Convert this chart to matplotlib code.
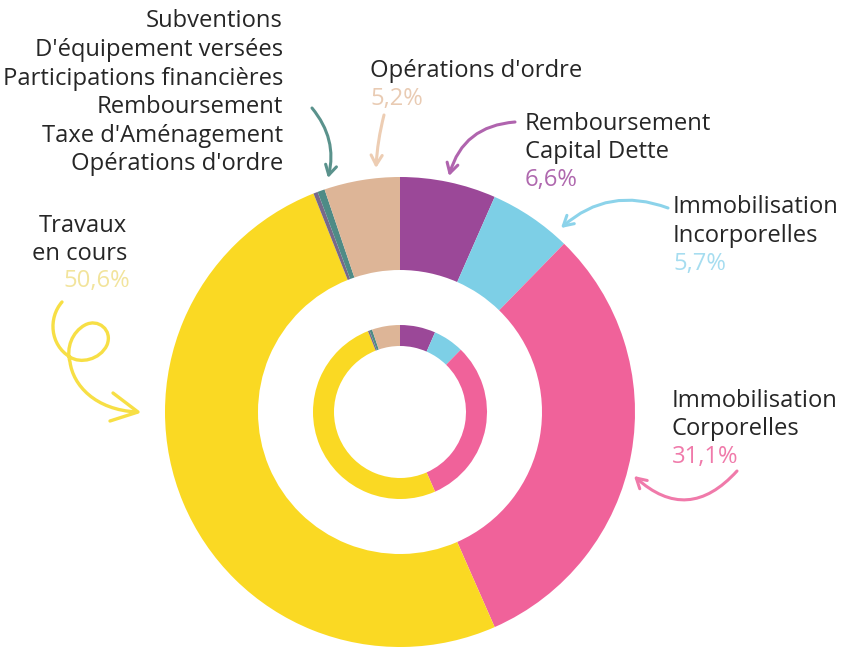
import matplotlib
matplotlib.use("Agg")
import matplotlib.pyplot as plt
from matplotlib.patches import FancyArrowPatch, PathPatch
from matplotlib.path import Path

# ---- data (clockwise from 12 o'clock) ----
categories = ["Remboursement Capital Dette", "Immobilisation Incorporelles",
              "Immobilisation Corporelles", "Travaux en cours",
              "Subventions / Participations / Remboursement TA", "Opérations d'ordre (autres)",
              "Opérations d'ordre"]
values = [6.6, 5.7, 31.1, 50.6, 0.3, 0.5, 5.2]
colors = ["#9B4898", "#7DCFE6", "#F0629A", "#FAD923", "#77698A", "#4E8B86", "#DDB597"]

W, H = 841, 647
fig = plt.figure(figsize=(W / 100, H / 100), dpi=100)
ax = fig.add_axes([0, 0, 1, 1])

def Y(y):
    return H - y

cx, cy = 400, Y(412)
ax.pie(values, colors=colors, startangle=90, counterclock=False, radius=235,
       center=(cx, cy), frame=True,
       wedgeprops=dict(width=93, edgecolor="none", linewidth=0))
ax.pie(values, colors=colors, startangle=90, counterclock=False, radius=87,
       center=(cx, cy), frame=True,
       wedgeprops=dict(width=21, edgecolor="none", linewidth=0))
ax.set_xlim(0, W)
ax.set_ylim(0, H)
ax.set_aspect("equal")
ax.axis("off")

FONT = ["Open Sans", "DejaVu Sans"]
FS = 17.1
DARK = "#262626"

def lines(x, baselines, texts, cols, ha="left"):
    for yb, t, c in zip(baselines, texts, cols):
        ax.text(x, Y(yb), t, ha=ha, va="baseline", fontsize=FS, family=FONT, color=c)

# left block
lines(283, [27, 56, 85, 113, 142, 170],
      ["Subventions", "D'équipement versées", "Participations financières",
       "Remboursement", "Taxe d'Aménagement", "Opérations d'ordre"],
      [DARK] * 6, ha="right")
# Travaux
lines(127, [232, 260], ["Travaux", "en cours"], [DARK] * 2, ha="right")
lines(130, [287], ["50,6%"], ["#F2E49C"], ha="right")
# Opérations d'ordre
lines(370, [77, 105], ["Opérations d'ordre", "5,2%"], [DARK, "#E9CBB3"])
# Remboursement capital dette
lines(525, [130, 158, 186], ["Remboursement", "Capital Dette", "6,6%"], [DARK, DARK, "#AF68AE"])
# Incorporelles
lines(673, [213, 242, 270], ["Immobilisation", "Incorporelles", "5,7%"], [DARK, DARK, "#A6DDF0"])
# Corporelles
lines(672, [407, 435, 463], ["Immobilisation", "Corporelles", "31,1%"], [DARK, DARK, "#F07AAA"])

def arrow(p0, p1, rad, color, lw=2.2):
    a = FancyArrowPatch((p0[0], Y(p0[1])), (p1[0], Y(p1[1])),
                        connectionstyle=f"arc3,rad={rad}",
                        arrowstyle="->,head_length=7,head_width=4",
                        color=color, lw=lw, shrinkA=0, shrinkB=0,
                        capstyle="round", joinstyle="round")
    ax.add_patch(a)

arrow((312, 108), (328, 178), -0.25, "#5A928C")
arrow((384, 115), (376, 168), 0.05, "#EDCDB3")
arrow((515, 122), (449, 176), 0.35, "#B064AE")
arrow((668, 208), (561, 228), 0.3, "#8CD3EA")
arrow((737, 471), (634, 476), -0.5, "#F07AAA")

# yellow looping arrow
verts = [(62, 302), (48, 318), (50, 345), (70, 357),
         (80, 364), (100, 360), (107, 345),
         (113, 330), (98, 318), (85, 325),
         (72, 332), (66, 348), (70, 362),
         (73, 385), (95, 410), (137, 412)]
codes = [Path.MOVETO] + [Path.CURVE4] * 15
path = Path([(x, Y(y)) for x, y in verts], codes)
ax.add_patch(PathPatch(path, facecolor="none", edgecolor="#F7DF45", lw=2.4,
                       capstyle="round", joinstyle="round"))
head = Path([(x, Y(y)) for x, y in [(113, 393), (138, 412), (110, 421)]],
            [Path.MOVETO, Path.LINETO, Path.LINETO])
ax.add_patch(PathPatch(head, facecolor="none", edgecolor="#F7DF45", lw=2.4,
                       capstyle="round", joinstyle="round"))

fig.savefig("out.png", dpi=100, facecolor="white")
